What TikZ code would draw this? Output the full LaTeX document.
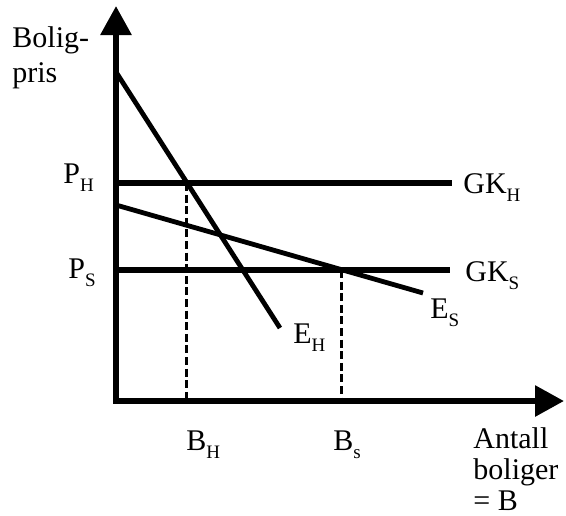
\documentclass[tikz,border=0pt]{standalone}
\usepackage{fontspec}
\setmainfont{Liberation Serif}
\usetikzlibrary{arrows.meta}
\newcommand\lowsub[1]{\raisebox{-4pt}{\fontsize{9.5}{9.5}\selectfont #1}}

\begin{document}
\begin{tikzpicture}[x=0.5pt, y=-0.5pt, font=\fontsize{15}{17.5}\selectfont,
  axis/.style={line width=3pt, line join=miter,
    {Triangle[length=14.5pt,width=15pt]}-{Triangle[length=14.5pt,width=15pt]}},
  costline/.style={line width=3pt},
  demand/.style={line width=2.4pt},
  guide/.style={line width=1.5pt, dash pattern=on 4pt off 1.8pt},
  lbl/.style={anchor=base west, inner sep=0pt}]
  \useasboundingbox (0,0) rectangle (566,515);

  % Axes
  \coordinate (O) at (116,401);
  \coordinate (ytop) at (116,6);
  \coordinate (xend) at (564,401);
  \draw[axis] (ytop) -- (O) -- (xend);

  % Cost lines GK_H and GK_S
  \coordinate (PH) at (116,183);
  \coordinate (GKHend) at (452,183);
  \coordinate (PS) at (116,270);
  \coordinate (GKSend) at (450,270);
  \draw[costline] (PH) -- (GKHend);
  \draw[costline] (PS) -- (GKSend);

  % Demand curves E_H and E_S
  \coordinate (EHstart) at (116,72);
  \coordinate (EHend) at (280,328);
  \coordinate (ESstart) at (116,205);
  \coordinate (ESend) at (423,293);
  \draw[demand] (EHstart) -- (EHend);
  \draw[demand] (ESstart) -- (ESend);

  % Equilibria
  \coordinate (AH) at (186,183);
  \coordinate (AS) at (341,270);
  \draw[guide] (AH) -- (AH |- O);
  \draw[guide] (AS) -- (AS |- O);

  % Labels (base of multi-line nodes = last line)
  \node[lbl, align=left] (ylab) at (12,82) {Bolig-\\pris};
  \node[lbl] (pH) at (63,183) {P\lowsub{H}};
  \node[lbl] (pS) at (68,278) {P\lowsub{S}};
  \node[lbl] (gkH) at (463,193) {GK\lowsub{H}};
  \node[lbl] (gkS) at (465,281) {GK\lowsub{S}};
  \node[lbl] (eS) at (430,318) {E\lowsub{S}};
  \node[lbl] (eH) at (293,343) {E\lowsub{H}};
  \node[lbl] (bH) at (186,450) {B\lowsub{H}};
  \node[lbl] (bS) at (333,450) {B\lowsub{s}};
  \node[lbl, align=left, font=\fontsize{15}{15.5}\selectfont] (xlab) at (473,510) {Antall\\boliger\\= B};
\end{tikzpicture}
\end{document}
